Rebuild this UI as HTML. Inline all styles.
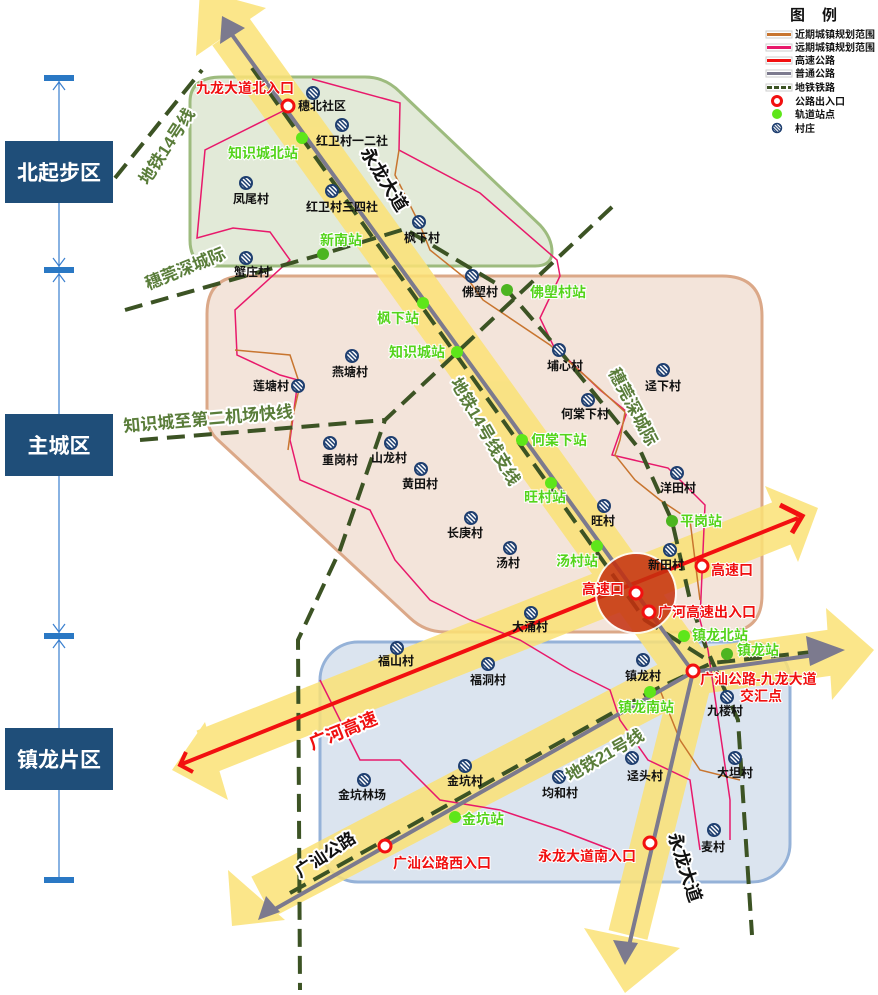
<!DOCTYPE html>
<html><head><meta charset="utf-8"><style>
html,body{margin:0;padding:0;background:#fff}
svg{display:block}
text{font-family:"Liberation Sans","Noto Sans CJK SC",sans-serif;font-weight:bold}
.v{font-size:12px;fill:#111;text-anchor:middle}
.s{font-size:14px;fill:#55d41c;paint-order:stroke;stroke:#fff;stroke-width:2px}
.e{font-size:14px;fill:#f01010;paint-order:stroke;stroke:#fff;stroke-width:2px}
.big{paint-order:stroke;stroke:#fff;stroke-width:4px;stroke-linejoin:round}
.rail{fill:none;stroke:#3c5324;stroke-width:4;stroke-dasharray:18 9}
</style></head><body>
<svg width="878" height="995" viewBox="0 0 878 995" xmlns="http://www.w3.org/2000/svg">
<defs>
<pattern id="h" width="3" height="3" patternUnits="userSpaceOnUse" patternTransform="rotate(-45)"><rect width="3" height="3" fill="#1f3f70"/><rect width="1.5" height="3" fill="#fff"/></pattern>
<g id="vil"><circle r="7" fill="#1f3f70"/><circle r="5" fill="url(#h)"/></g>
</defs>

<line x1="59" y1="78" x2="59" y2="880" stroke="#3a7fcf" stroke-width="1.2"/>
<g fill="#2a78c4"><rect x="44" y="75" width="30" height="6"/><rect x="44" y="267" width="30" height="6"/><rect x="44" y="633" width="30" height="6"/><rect x="44" y="877" width="30" height="6"/></g>
<g stroke="#3a7fcf" fill="none" stroke-width="1.2"><path d="M53,90 L59,82 L65,90"/><path d="M53,258 L59,266 L65,258 M53,282 L59,274 L65,282"/><path d="M53,624 L59,632 L65,624 M53,648 L59,640 L65,648"/></g>
<g fill="#1f4e79"><rect x="5" y="141" width="108" height="62"/><rect x="5" y="414" width="108" height="62"/><rect x="5" y="728" width="108" height="62"/></g>
<g fill="#fff" font-size="21" text-anchor="middle"><text x="59" y="180">北起步区</text><text x="59" y="453">主城区</text><text x="59" y="767">镇龙片区</text></g>

<path d="M222,77 L365,77 Q385,77 400,92 L540,225 Q552,238 552,252 Q552,266 535,266 L215,266 Q190,266 190,240 L190,102 Q190,77 222,77Z" fill="#e2ead8" stroke="#9dbb7e" stroke-width="3"/>
<path d="M245,276 L722,276 Q762,276 762,316 L762,595 Q762,632 725,632 L445,632 Q425,632 410,618 L218,440 Q207,430 207,415 L207,314 Q207,276 245,276Z" fill="#f3e4da" stroke="#dba888" stroke-width="3"/>
<rect x="320" y="642" width="470" height="240" rx="38" fill="#dbe4ef" stroke="#95b2d8" stroke-width="3"/>

<g fill="#fbe276" opacity="0.85">
<polyline points="231,32 693,675" stroke="#fbe276" stroke-width="46" fill="none"/>
<polyline points="693,675 628,935" stroke="#fbe276" stroke-width="40" fill="none"/>
<polygon points="200,-10 196,56 266,8"/>
<polygon points="584,928 680,948 625,993"/>
<polyline points="205,752 790,520" stroke="#fbe276" stroke-width="46" fill="none"/>
<polygon points="818,508 765,486 798,562"/>
<polygon points="172,770 205,722 228,800"/>
<polyline points="262,897 693,672 835,652" stroke="#fbe276" stroke-width="46" fill="none" stroke-linejoin="round"/>
<polygon points="874,650 826,608 832,700"/>
<polygon points="232,926 228,870 285,920"/>
</g>

<g fill="none" stroke-width="1.5">
<polyline stroke="#e8196b" points="312,79 400,103 399,150 480,193 557,260 560,276 540,318 553,345 600,390 627,412 612,455 668,468 705,505 700,620 708,650 722,745 730,800 730,840"/>
<polyline stroke="#e8196b" points="285,110 205,150 197,238 233,228 270,232 290,260 235,310 237,355 280,375 298,380 290,440 300,480 370,510 395,560 430,600 470,620 520,640 570,670 610,690 620,720 648,760 690,780 700,850"/>
<polyline stroke="#e8196b" points="320,680 340,720 360,760 400,760 440,800 500,810 560,830 612,850"/>
<polyline stroke="#c8752f" points="399,150 395,175 420,225 430,250 470,282 483,300 550,345 590,380 625,412 620,440 615,455 635,480 660,500 690,520 700,600"/>
<polyline stroke="#c8752f" points="235,350 290,355 300,385 292,420 288,450"/>
<polyline stroke="#c8752f" points="660,690 680,740 700,770 740,780"/>
</g>

<polyline class="rail" points="252,68 645,620 712,663"/>
<polyline class="rail" points="290,893 650,692 712,663 830,650"/>
<polyline class="rail" points="125,310 323,254 405,229 507,290 559,350 640,450 672,521 690,600 705,645 738,720 752,935"/>
<polyline class="rail" points="612,207 385,420 340,550 298,640 300,990"/>
<polyline class="rail" points="140,440 385,420"/>
<polyline class="rail" points="115,178 202,70"/>

<line x1="182" y1="764" x2="798" y2="518" stroke="#f21010" stroke-width="4"/>
<polyline points="780,505 802,516 792,533" fill="none" stroke="#f21010" stroke-width="5"/>
<polyline points="186,752 180,765 193,772" fill="none" stroke="#f21010" stroke-width="4"/>

<g stroke="#7c7a8e" stroke-width="4" fill="none" stroke-linejoin="round">
<polyline points="230,32 693,672 628,950"/>
<polyline points="268,913 693,672 815,655"/>
</g>
<g fill="#7c7a8e">
<polygon points="222,16 220,44 245,28"/>
<polygon points="625,965 613,940 638,943"/>
<polygon points="845,650 806,636 810,666"/>
<polygon points="258,920 266,896 280,912"/>
</g>

<circle cx="636" cy="593" r="40" fill="#c5300f" opacity="0.85" stroke="#fff" stroke-width="2"/>

<g>
<use href="#vil" x="313" y="93"/><use href="#vil" x="342" y="125"/><use href="#vil" x="246" y="183"/><use href="#vil" x="332" y="191"/><use href="#vil" x="419" y="222"/><use href="#vil" x="246" y="258"/><use href="#vil" x="472" y="276"/><use href="#vil" x="352" y="356"/><use href="#vil" x="298" y="386"/><use href="#vil" x="559" y="350"/><use href="#vil" x="663" y="370"/><use href="#vil" x="588" y="400"/><use href="#vil" x="330" y="443"/><use href="#vil" x="391" y="443"/><use href="#vil" x="421" y="469"/><use href="#vil" x="677" y="473"/><use href="#vil" x="604" y="506"/><use href="#vil" x="471" y="518"/><use href="#vil" x="510" y="548"/><use href="#vil" x="670" y="550"/><use href="#vil" x="531" y="613"/><use href="#vil" x="397" y="648"/><use href="#vil" x="488" y="664"/><use href="#vil" x="643" y="660"/><use href="#vil" x="727" y="697"/><use href="#vil" x="364" y="780"/><use href="#vil" x="465" y="766"/><use href="#vil" x="559" y="777"/><use href="#vil" x="632" y="758"/><use href="#vil" x="735" y="758"/><use href="#vil" x="714" y="830"/>
</g>
<g class="v">
<text x="322" y="110">穗北社区</text><text x="352" y="145">红卫村一二社</text><text x="251" y="203">凤尾村</text><text x="342" y="211">红卫村三四社</text><text x="422" y="242">枫下村</text><text x="252" y="276">蟹庄村</text><text x="480" y="296">佛塱村</text><text x="350" y="376">燕塘村</text><text x="271" y="390">莲塘村</text><text x="565" y="370">埔心村</text><text x="663" y="390">迳下村</text><text x="585" y="418">何棠下村</text><text x="340" y="464">重岗村</text><text x="389" y="462">山龙村</text><text x="420" y="488">黄田村</text><text x="678" y="492">洋田村</text><text x="603" y="525">旺村</text><text x="465" y="537">长庚村</text><text x="508" y="567">汤村</text><text x="666" y="569">新田村</text><text x="530" y="631">大涌村</text><text x="396" y="665">福山村</text><text x="488" y="684">福洞村</text><text x="643" y="680">镇龙村</text><text x="725" y="715">九楼村</text><text x="362" y="799">金坑林场</text><text x="465" y="785">金坑村</text><text x="560" y="797">均和村</text><text x="645" y="780">迳头村</text><text x="735" y="777">大坦村</text><text x="713" y="851">麦村</text>
</g>

<g fill="#5ee61a">
<circle cx="302" cy="138" r="6"/><circle cx="323" cy="254" r="6" fill="#4cb520"/><circle cx="507" cy="290" r="6" fill="#4cb520"/><circle cx="423" cy="303" r="6"/><circle cx="457" cy="352" r="6"/><circle cx="522" cy="440" r="6"/><circle cx="551" cy="483" r="6"/><circle cx="597" cy="546" r="6"/><circle cx="672" cy="521" r="6" fill="#4cb520"/><circle cx="684" cy="636" r="6"/><circle cx="727" cy="654" r="6" fill="#4cb520"/><circle cx="650" cy="692" r="6"/><circle cx="455" cy="817" r="6"/>
</g>
<g class="s">
<text x="228" y="158">知识城北站</text><text x="320" y="245">新南站</text><text x="530" y="297">佛塱村站</text><text x="377" y="323">枫下站</text><text x="389" y="357">知识城站</text><text x="531" y="445">何棠下站</text><text x="524" y="502">旺村站</text><text x="556" y="566">汤村站</text><text x="680" y="526">平岗站</text><text x="692" y="640">镇龙北站</text><text x="737" y="655">镇龙站</text><text x="618" y="712">镇龙南站</text><text x="462" y="824">金坑站</text>
</g>

<g fill="#fff" stroke="#f21010" stroke-width="3">
<circle cx="288" cy="106" r="6"/><circle cx="636" cy="593" r="6"/><circle cx="702" cy="566" r="6"/><circle cx="649" cy="612" r="6"/><circle cx="693" cy="671" r="6"/><circle cx="385" cy="846" r="6"/><circle cx="650" cy="843" r="6"/>
</g>
<g class="e">
<text x="196" y="93">九龙大道北入口</text><text x="582" y="594">高速口</text><text x="711" y="575">高速口</text><text x="658" y="617">广河高速出入口</text><text x="700" y="684">广汕公路-九龙大道</text><text x="740" y="701">交汇点</text><text x="393" y="868">广汕公路西入口</text><text x="538" y="861">永龙大道南入口</text>
</g>

<text class="big" font-size="18" fill="#111" transform="translate(360,152) rotate(58)">永龙大道</text>
<text class="big" font-size="18" fill="#111" transform="translate(668,835) rotate(72)">永龙大道</text>
<text class="big" font-size="17" fill="#111" transform="translate(300,878) rotate(-33)">广汕公路</text>
<text class="big" font-size="18" fill="#f01010" transform="translate(312,750) rotate(-22)">广河高速</text>
<text class="big" font-size="17" fill="#5a7d3a" transform="translate(570,782) rotate(-30)">地铁21号线</text>
<text class="big" font-size="17" fill="#5a7d3a" transform="translate(450,382) rotate(60)">地铁14号线支线</text>
<text class="big" font-size="17" fill="#5a7d3a" transform="translate(608,372) rotate(62)">穗莞深城际</text>
<text class="big" font-size="17" fill="#5a7d3a" transform="translate(148,290) rotate(-22)">穗莞深城际</text>
<text class="big" font-size="17" fill="#5a7d3a" transform="translate(124,432) rotate(-5)">知识城至第二机场快线</text>
<text class="big" font-size="17" fill="#5a7d3a" transform="translate(148,186) rotate(-57)">地铁14号线</text>

<text x="790" y="20" font-size="15" fill="#111">图</text><text x="822" y="20" font-size="15" fill="#111">例</text>
<g stroke-width="3">
<rect x="766" y="31" width="26" height="7" fill="#fff" stroke="#ccc" stroke-width="1"/><line x1="767" y1="34.5" x2="791" y2="34.5" stroke="#c8752f"/>
<rect x="766" y="44" width="26" height="7" fill="#fff" stroke="#ccc" stroke-width="1"/><line x1="767" y1="47.5" x2="791" y2="47.5" stroke="#e8196b"/>
<rect x="766" y="57" width="26" height="7" fill="#fff" stroke="#ccc" stroke-width="1"/><line x1="767" y1="60.5" x2="791" y2="60.5" stroke="#f21010"/>
<rect x="766" y="70" width="26" height="7" fill="#fff" stroke="#ccc" stroke-width="1"/><line x1="767" y1="73.5" x2="791" y2="73.5" stroke="#7c7a8e"/>
<rect x="766" y="84" width="26" height="7" fill="#fff" stroke="#ccc" stroke-width="1"/><line x1="767" y1="87.5" x2="791" y2="87.5" stroke="#3c5324" stroke-dasharray="5 2"/>
</g>
<circle cx="777" cy="101" r="4.5" fill="#fff" stroke="#f21010" stroke-width="3"/>
<circle cx="777" cy="114" r="5" fill="#5ee61a"/>
<use href="#vil" x="777" y="128" transform="translate(777,128) scale(0.75) translate(-777,-128)"/>
<g font-size="10" fill="#111">
<text x="795" y="38">近期城镇规划范围</text><text x="795" y="51">远期城镇规划范围</text><text x="795" y="64">高速公路</text><text x="795" y="77">普通公路</text><text x="795" y="91">地铁铁路</text><text x="795" y="105">公路出入口</text><text x="795" y="118">轨道站点</text><text x="795" y="132">村庄</text>
</g>
</svg>
</body></html>
